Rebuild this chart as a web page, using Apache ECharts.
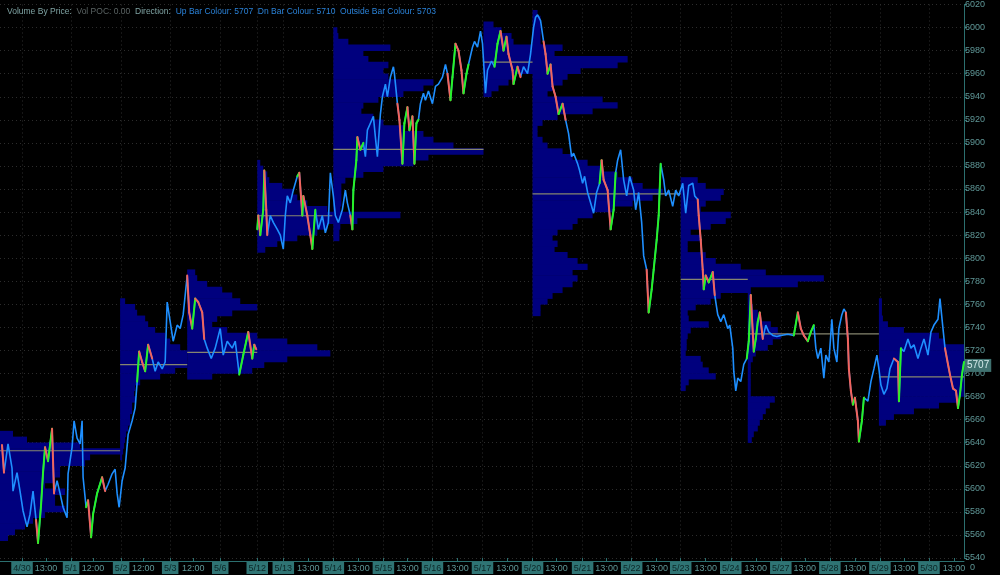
<!DOCTYPE html>
<html><head><meta charset="utf-8">
<script src="https://cdn.jsdelivr.net/npm/echarts@6/dist/echarts.min.js"></script>
<style>html,body{margin:0;padding:0;background:#000;}#c{width:1000px;height:575px;}</style>
</head><body><div id="c"></div>
<script>
// ---- time axis (bar index) ----
const barCount = 964;
const tickBars = [22,46,71,93,121,143,170,193,220,257,283,308,333,358,383,407,432,457,482,507,532,556,582,606,631,656,680,705,730,755,780,804,829,854,879,903,928,953];
const tickLabels = ['4/30','13:00','5/1','12:00','5/2','12:00','5/3','12:00','5/6','5/12','5/13','13:00','5/14','13:00','5/15','13:00','5/16','13:00','5/17','13:00','5/20','13:00','5/21','13:00','5/22','13:00','5/23','13:00','5/24','13:00','5/27','13:00','5/28','13:00','5/29','13:00','5/30','13:00'];
const gapAfterBar = 256;
const lastPrice = 5707;

// ---- price path ----
const priceBars = [2,4,8,12,13,17,20,23,27,30,33,36,38,41,43,45,48,52,54,57,60,63,67,68,72,74,77,80,82,83,86,88,91,93,97,102,105,108,112,115,117,119,122,125,128,132,135,137,139,142,145,148,152,155,158,162,165,167,170,173,177,180,183,187,189,192,195,198,202,204,207,211,215,220,223,227,232,235,239,243,246,248,252,254,256,
257,258,260,263,264,266,267,270,273,277,280,283,285,287,290,293,297,299,302,303,307,310,312,315,318,322,325,328,330,333,335,338,342,345,347,350,352,353,356,357,360,363,365,367,370,373,375,377,380,382,385,387,390,393,394,397,399,402,404,407,409,412,414,416,418,420,423,425,428,432,435,438,442,445,447,450,452,455,458,461,463,466,468,472,474,477,480,482,485,487,491,494,497,500,503,506,508,512,513,517,520,523,527,530,533,535,537,540,543,545,547,550,552,555,558,562,565,568,571,573,577,579,582,584,587,590,593,596,599,601,603,607,610,613,615,617,620,623,626,629,633,635,638,641,643,646,648,651,653,656,658,660,663,665,668,672,675,678,682,685,688,692,694,697,698,700,702,703,705,708,712,714,717,720,723,727,729,732,733,735,737,740,743,746,748,750,753,755,757,759,762,765,768,772,776,780,787,793,797,800,803,807,810,813,815,817,820,823,825,828,831,833,836,838,841,843,845,847,848,850,852,854,857,858,861,863,867,870,873,876,878,880,883,886,889,893,897,898,900,903,907,910,913,917,920,923,927,930,933,937,939,942,944,947,949,952,955,957,959,961,963];
const priceValues = [5638,5614,5639,5618,5598,5614,5598,5581,5567,5578,5598,5573,5553,5586,5614,5636,5624,5652,5596,5607,5596,5584,5575,5613,5636,5659,5644,5639,5659,5610,5584,5590,5558,5578,5596,5610,5598,5604,5613,5617,5596,5584,5607,5618,5647,5659,5670,5693,5719,5710,5702,5725,5713,5702,5710,5704,5710,5762,5745,5728,5742,5739,5751,5785,5753,5739,5765,5762,5753,5730,5722,5713,5722,5739,5716,5728,5722,5728,5699,5716,5728,5736,5713,5725,5721,
5825,5837,5820,5842,5876,5842,5820,5837,5831,5825,5820,5808,5837,5854,5848,5859,5871,5874,5837,5854,5837,5820,5808,5842,5825,5837,5822,5831,5874,5854,5837,5831,5842,5859,5848,5837,5825,5859,5885,5905,5894,5900,5888,5911,5917,5923,5905,5888,5925,5940,5951,5940,5957,5966,5960,5934,5920,5882,5917,5931,5911,5923,5882,5917,5920,5934,5943,5937,5945,5934,5949,5951,5957,5968,5960,5937,5957,5986,5980,5963,5943,5960,5968,5983,5988,5983,5997,5986,5943,5963,5971,5966,5986,5997,5980,5992,5977,5963,5951,5966,5957,5966,5960,5977,6000,6009,6011,6006,5988,5977,5960,5968,5949,5940,5925,5934,5920,5908,5888,5891,5882,5876,5865,5871,5857,5848,5839,5857,5865,5885,5868,5859,5825,5842,5874,5885,5894,5868,5854,5871,5859,5842,5857,5831,5802,5790,5753,5773,5790,5816,5837,5882,5868,5854,5859,5845,5859,5854,5865,5839,5863,5865,5854,5851,5837,5816,5790,5773,5785,5779,5788,5768,5751,5745,5751,5739,5742,5722,5702,5685,5696,5693,5708,5713,5728,5768,5719,5730,5745,5753,5730,5742,5736,5733,5732,5733,5734,5733,5753,5739,5733,5728,5736,5742,5722,5713,5722,5696,5716,5710,5747,5722,5710,5739,5751,5756,5753,5730,5704,5685,5673,5679,5659,5641,5659,5679,5676,5693,5704,5716,5704,5690,5682,5687,5704,5713,5710,5676,5722,5719,5730,5722,5725,5713,5722,5730,5716,5736,5742,5747,5765,5739,5722,5708,5699,5687,5685,5670,5682,5699,5710];
// cash-session stretches drawn with up/down bar colours
const cashBars = [[0,5],[37,53],[86,106],[137,153],[186,205],[238,255],[257,268],[297,316],[350,362],[397,418],[447,468],[494,521],[544,566],[598,614],[646,661],[697,713],[746,761],[795,813],[845,862],[893,901],[944,963]];

// ---- volume-by-price profiles: [price bin low, volume length in bars] ----
const binSize = 5;
const profileStarts = [0,120,187,257,333,483,532,680,747,878];
const profileEnds   = [120,187,257,332,483,532,680,747,878,964];
const pocPrices     = [5633,5707.7,5718.3,5836.8,5894.4,5970,5855.7,5781.7,5734.4,5697];
const profA = [[5555,8],[5560,15],[5565,25],[5570,33],[5575,45],[5580,65],[5585,55],[5590,55],[5595,65],[5600,45],[5605,55],[5610,60],[5615,60],[5620,85],[5625,90],[5630,120],[5635,80],[5640,27],[5645,13]];
const profB = [[5625,2],[5630,3],[5635,4],[5640,5],[5645,6],[5650,8],[5655,10],[5660,10],[5665,12],[5670,12],[5675,16],[5680,14],[5685,15],[5690,20],[5695,40],[5700,55],[5705,67],[5710,67],[5715,67],[5720,60],[5725,50],[5730,45],[5735,35],[5740,28],[5745,25],[5750,17],[5755,15],[5760,5]];
const profC = [[5695,25],[5700,65],[5705,77],[5710,100],[5715,143],[5720,130],[5725,100],[5730,70],[5735,40],[5740,25],[5745,30],[5750,45],[5755,70],[5760,53],[5765,45],[5770,35],[5775,20],[5780,10],[5785,8]];
const profD = [[5805,8],[5810,20],[5815,40],[5820,60],[5825,70],[5830,100],[5835,143],[5840,70],[5845,50],[5850,40],[5855,35],[5860,25],[5865,12],[5870,10],[5875,6],[5880,3]];
const profE = [[5815,6],[5820,6],[5825,7],[5830,7],[5835,7],[5840,7],[5845,8],[5850,8],[5855,8],[5860,8],[5865,12],[5870,30],[5875,50],[5880,80],[5885,95],[5890,150],[5895,120],[5900,100],[5905,90],[5910,70],[5915,50],[5920,40],[5925,28],[5930,30],[5935,45],[5940,70],[5945,90],[5950,100],[5955,55],[5960,50],[5965,55],[5970,35],[5975,30],[5980,57],[5985,15],[5990,5],[5995,4]];
const profF = [[5940,8],[5945,15],[5950,25],[5955,30],[5960,50],[5965,55],[5970,60],[5975,70],[5980,79],[5985,30],[5990,28],[5995,18],[6000,10]];
const profG = [[5750,8],[5755,8],[5760,15],[5765,20],[5770,30],[5775,40],[5780,45],[5785,40],[5790,55],[5795,45],[5800,35],[5805,22],[5810,25],[5815,20],[5820,25],[5825,40],[5830,45],[5835,60],[5840,80],[5845,100],[5850,120],[5855,130],[5860,110],[5865,100],[5870,85],[5875,70],[5880,55],[5885,40],[5890,30],[5895,15],[5900,10],[5905,5],[5910,5],[5915,10],[5920,25],[5925,60],[5930,85],[5935,70],[5940,15],[5945,20],[5950,30],[5955,35],[5960,48],[5965,85],[5970,95],[5975,22],[5980,10],[5985,8],[5990,8],[5995,8],[6000,8],[6005,8],[6010,5]];
const profH = [[5685,5],[5690,8],[5695,35],[5700,28],[5705,22],[5710,20],[5715,5],[5720,6],[5725,6],[5730,7],[5735,10],[5740,28],[5745,8],[5750,7],[5755,15],[5760,30],[5765,40],[5770,70],[5775,117],[5780,143],[5785,85],[5790,60],[5795,35],[5800,25],[5805,7],[5810,7],[5815,20],[5820,10],[5825,30],[5830,45],[5835,50],[5840,20],[5845,25],[5850,40],[5855,43],[5860,25],[5865,17]];
const profI = [[5640,4],[5645,6],[5650,10],[5655,12],[5660,15],[5665,18],[5670,22],[5675,27],[5680,3],[5685,3],[5690,3],[5695,3],[5700,3],[5705,3],[5710,5],[5715,8],[5720,20],[5725,25],[5730,33],[5735,30],[5740,23],[5745,13],[5750,10],[5755,5],[5760,3],[5765,3]];
const profJ = [[5655,7],[5660,15],[5665,35],[5670,60],[5675,79],[5680,100],[5685,100],[5690,100],[5695,100],[5700,100],[5705,100],[5710,100],[5715,86],[5720,90],[5725,65],[5730,60],[5735,25],[5740,9],[5745,4],[5750,3],[5755,3],[5760,3]];
const profiles = [profA,profB,profC,profD,profE,profF,profG,profH,profI,profJ];

// ---- build series data ----
const tickMap = {};
tickBars.forEach((b,i)=>{ tickMap[b] = tickLabels[i]; });
const isDate = l => l.indexOf('/') >= 0;
const categories = Array.from({length: barCount}, (_, i) => String(i));

const sessionOne = [], sessionTwo = [];
priceBars.forEach((b,i)=>{ (b <= gapAfterBar ? sessionOne : sessionTwo).push([b, priceValues[i]]); });

const coloredSegs = [];
for (let i = 1; i < priceBars.length; i++) {
  const a = priceBars[i-1], b = priceBars[i];
  if (a <= gapAfterBar && b > gapAfterBar) continue;
  const mid = (a + b) / 2;
  const inCash = cashBars.some(r => mid >= r[0] && mid <= r[1]);
  if (!inCash) continue;
  coloredSegs.push([a, priceValues[i-1], b, priceValues[i], priceValues[i] >= priceValues[i-1] ? 1 : 2]);
}

const profileData = [];
profiles.forEach((p, k) => p.forEach(r => profileData.push([profileStarts[k], r[0], r[1]])));
const pocData = pocPrices.map((p, k) => [profileStarts[k], profileEnds[k], p]);

const chart = echarts.init(document.getElementById('c'), null, {renderer: 'canvas'});
const axisColor = '#2b6f6f';
const labelColor = '#5f9797';
const gridDot = '#2c2c2c';
const font = '"Liberation Sans", sans-serif';

chart.setOption({
  backgroundColor: '#000000',
  animation: false,
  title: {
    left: 2, top: 2,
    text: '{a|Volume By Price:}  {b|Vol POC: 0.00}  {a|Direction:}  {c|Up Bar Colour: 5707}  {c|Dn Bar Colour: 5710}  {c|Outside Bar Colour: 5703}',
    textStyle: {
      fontSize: 8.5, fontFamily: font, fontWeight: 'normal', color: '#7fa3a3',
      rich: {
        a: {color: '#7fa3a3', fontSize: 8.5, fontFamily: font, fontWeight: 'normal'},
        b: {color: '#5b6464', fontSize: 8.5, fontFamily: font, fontWeight: 'normal'},
        c: {color: '#2a82d8', fontSize: 8.5, fontFamily: font, fontWeight: 'normal'}
      }
    }
  },
  grid: {left: 0, right: 36, top: 0, bottom: 17, containLabel: false},
  xAxis: {
    type: 'category', data: categories, boundaryGap: false, offset: 3,
    axisLine: {show: true, lineStyle: {color: axisColor, width: 1}},
    axisTick: {show: true, inside: true, length: 3, lineStyle: {color: axisColor},
      interval: (idx) => tickMap[idx] !== undefined},
    axisLabel: {
      margin: 1, showMinLabel: true, showMaxLabel: true, hideOverlap: false,
      interval: (idx) => tickMap[idx] !== undefined,
      formatter: (v, idx) => { const l = tickMap[idx]; if (l === undefined) return ''; return isDate(l) ? '{d|' + l + '}' : '{t|' + l + '}'; },
      rich: {
        d: {backgroundColor: '#2f7474', color: '#0c2626', fontSize: 9, fontFamily: font, padding: [2, 2, 1, 2]},
        t: {color: labelColor, fontSize: 9, fontFamily: font, padding: [2, 0, 1, 0]}
      }
    },
    splitLine: {show: true, interval: (idx) => tickMap[idx] !== undefined && isDate(tickMap[idx]),
      lineStyle: {color: gridDot, type: [1, 3]}}
  },
  yAxis: {
    type: 'value', position: 'right', min: 5540, max: 6020, interval: 20,
    axisLine: {show: true, lineStyle: {color: axisColor}},
    axisTick: {show: true, length: 3, lineStyle: {color: axisColor}},
    axisLabel: {color: labelColor, fontSize: 9, fontFamily: font, margin: 1, formatter: v => String(v)},
    splitLine: {show: true, lineStyle: {color: gridDot, type: [1, 3]}}
  },
  series: [
    {
      type: 'custom', name: 'profiles', data: profileData, z: 1, silent: true,
      encode: {x: 0, y: 1},
      renderItem: (params, api) => {
        const s = api.value(0), lo = api.value(1), len = api.value(2);
        const tl = api.coord([s, lo + binSize]);
        const br = api.coord([s + len, lo]);
        const right = params.coordSys.x + params.coordSys.width;
        const x2 = Math.min(br[0], right);
        return {type: 'rect', shape: {x: tl[0], y: tl[1] - 0.3, width: x2 - tl[0], height: br[1] - tl[1] + 0.6},
          style: {fill: '#00007e'}};
      }
    },
    {
      type: 'custom', name: 'poc', data: pocData, z: 2, silent: true,
      encode: {x: [0, 1], y: 2},
      renderItem: (params, api) => {
        const a = api.coord([api.value(0), api.value(2)]);
        const b = api.coord([api.value(1), api.value(2)]);
        const right = params.coordSys.x + params.coordSys.width;
        return {type: 'line', shape: {x1: a[0], y1: a[1], x2: Math.min(b[0], right), y2: b[1]},
          style: {stroke: '#86866f', lineWidth: 1.2}};
      }
    },
    {type: 'line', data: sessionOne, symbol: 'none', z: 3, silent: true, lineStyle: {color: '#1e8fff', width: 1.6}},
    {type: 'line', data: sessionTwo, symbol: 'none', z: 3, silent: true, lineStyle: {color: '#1e8fff', width: 1.6}},
    {
      type: 'custom', name: 'bars', data: coloredSegs, z: 4, silent: true,
      encode: {x: [0, 2], y: [1, 3]},
      renderItem: (params, api) => {
        const a = api.coord([api.value(0), api.value(1)]);
        const b = api.coord([api.value(2), api.value(3)]);
        const up = api.value(4) === 1;
        return {type: 'line', shape: {x1: a[0], y1: a[1], x2: b[0], y2: b[1]},
          style: {stroke: up ? '#27f227' : '#f2635c', lineWidth: 2, lineCap: 'round'}};
      }
    }
  ]
});

const py = chart.convertToPixel({yAxisIndex: 0}, lastPrice);
chart.setOption({
  graphic: [
    {type: 'text', x: 965, y: py, z: 100,
      style: {text: String(lastPrice), fill: '#d4eaea', backgroundColor: '#3f716f', padding: [2, 2, 1, 2],
        font: '10px "Liberation Sans"', verticalAlign: 'middle', align: 'left'}},
    {type: 'text', x: 970, y: 568, z: 100,
      style: {text: '0', fill: labelColor, font: '9px "Liberation Sans"', verticalAlign: 'middle', align: 'left'}}
  ]
});
</script>
</body></html>
